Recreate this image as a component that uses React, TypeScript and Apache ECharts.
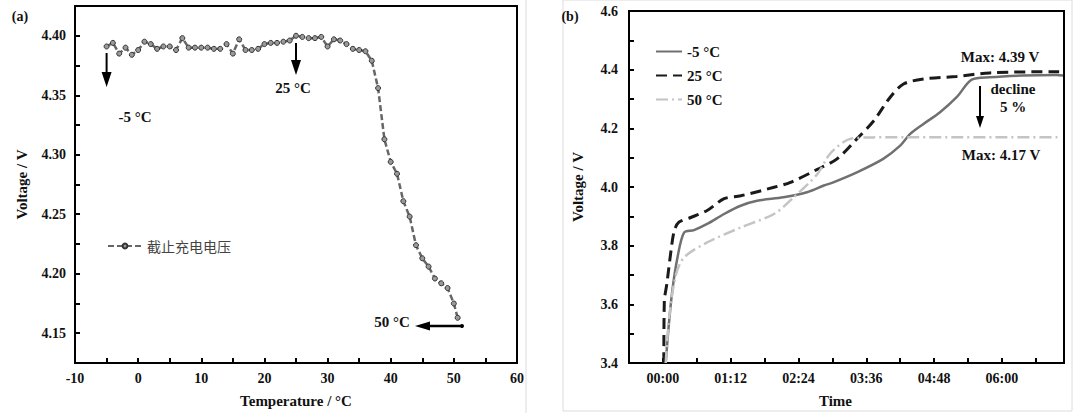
import React, { useEffect, useRef } from "react";
import * as echarts from "echarts";

// ---- Panel (a): cut-off charge voltage vs temperature ----
const tempC = [-5, -4, -3, -2, -1, 0, 1, 2, 3, 4, 5, 6, 7, 8, 9, 10, 11, 12, 13, 14, 15, 16, 17, 18, 19, 20,
  21, 22, 23, 24, 25, 26, 27, 28, 29, 30, 31, 32, 33, 34, 35, 36, 37, 38, 39, 40, 41, 42, 43, 44, 45, 46,
  47, 48, 49, 50, 50.6];
const cutoffV = [4.391, 4.394, 4.385, 4.390, 4.384, 4.388, 4.395, 4.393, 4.389, 4.391, 4.391, 4.388, 4.398,
  4.390, 4.390, 4.390, 4.390, 4.389, 4.389, 4.393, 4.385, 4.397, 4.388, 4.388, 4.389, 4.393, 4.394, 4.394,
  4.395, 4.396, 4.400, 4.399, 4.398, 4.398, 4.399, 4.391, 4.397, 4.396, 4.393, 4.389, 4.388, 4.387, 4.379,
  4.356, 4.313, 4.294, 4.284, 4.261, 4.248, 4.224, 4.213, 4.206, 4.196, 4.192, 4.188, 4.175, 4.163];
const seriesAName = "截止充电电压";

// ---- Panel (b): voltage vs time (minutes) ----
const tM5 = [3, 6, 10, 15.5, 22.6, 33, 47, 65, 82.6, 100, 128, 153, 171, 181, 206, 234, 252, 262.6, 276.7,
  294, 312, 328, 347, 382, 418, 425];
const vM5 = [3.40, 3.52, 3.647, 3.76, 3.845, 3.853, 3.874, 3.908, 3.936, 3.953, 3.965, 3.982, 4.005, 4.016,
  4.05, 4.096, 4.141, 4.181, 4.215, 4.254, 4.306, 4.366, 4.374, 4.38, 4.382, 4.38];
const t25 = [1, 1.5, 4.2, 8.5, 12, 17, 29.6, 47, 65, 82.6, 118, 135.5, 164, 185, 206, 224, 241.4, 255.5,
  276.7, 312, 347, 418, 426];
const v25 = [3.40, 3.61, 3.67, 3.78, 3.85, 3.88, 3.896, 3.92, 3.96, 3.97, 3.999, 4.016, 4.06, 4.096, 4.164,
  4.226, 4.306, 4.351, 4.368, 4.377, 4.389, 4.393, 4.393];
const t50 = [3, 6.7, 13.8, 22.6, 47, 82.6, 118, 139, 164, 178, 199, 223, 260, 420];
const v50 = [3.40, 3.556, 3.70, 3.76, 3.811, 3.862, 3.908, 3.965, 4.044, 4.115, 4.164, 4.169, 4.17, 4.17];
const seriesBNames = ["-5 °C", "25 °C", "50 °C"];

const SERIF = '"Liberation Serif", "Times New Roman", serif';
const pairs = (xs: number[], ys: number[]) => xs.map((x, i) => [x, ys[i]]);
const hhmm = (v: number) =>
  `${String(Math.floor(v / 60)).padStart(2, "0")}:${String(Math.round(v % 60)).padStart(2, "0")}`;

function arrowV(x: number, y1: number, y2: number, headLen: number, halfW: number) {
  return {
    type: "group",
    children: [
      { type: "line", shape: { x1: x, y1, x2: x, y2: y2 - headLen + 1 }, style: { stroke: "#000", lineWidth: 2 } },
      { type: "polygon", shape: { points: [[x - halfW, y2 - headLen], [x + halfW, y2 - headLen], [x, y2]] }, style: { fill: "#000" } },
    ],
  };
}
function arrowLeft(x1: number, x2: number, y: number, headLen: number, halfW: number) {
  return {
    type: "group",
    children: [
      { type: "line", shape: { x1, y1: y, x2: x2 + headLen - 1, y2: y }, style: { stroke: "#000", lineWidth: 2.5 } },
      { type: "polygon", shape: { points: [[x2 + headLen, y - halfW], [x2 + headLen, y + halfW], [x2, y]] }, style: { fill: "#000" } },
      { type: "circle", shape: { cx: x1, cy: y, r: 2 }, style: { fill: "#000" } },
    ],
  };
}
function txt(x: number, y: number, text: string, align = "center", size = 15) {
  return {
    type: "text",
    x,
    y,
    style: { text, fill: "#111", font: `bold ${size}px ${SERIF}`, align, verticalAlign: "middle" },
  };
}

export default function App() {
  const ref = useRef<HTMLDivElement>(null);
  useEffect(() => {
    document.body.style.margin = "0";
    if (!ref.current) return;
    const chart = echarts.init(ref.current, undefined, { renderer: "svg" });
    const axisCommon = {
      axisLine: { show: true, onZero: false, lineStyle: { color: "#000", width: 2 } },
      axisTick: { show: true, inside: true, length: 5, lineStyle: { color: "#000", width: 2 } },
      splitLine: { show: false },
    };
    const labelStyle = { color: "#111", fontFamily: SERIF, fontWeight: "bold", fontSize: 14 };
    const nameStyle = { color: "#111", fontFamily: SERIF, fontWeight: "bold", fontSize: 15 };
    chart.setOption({
      animation: false,
      backgroundColor: "#fff",
      grid: [
        { left: 75, top: 6, width: 442, height: 357, show: true, borderColor: "#000", borderWidth: 2, containLabel: false },
        { left: 629, top: 11, width: 435, height: 352, show: true, borderColor: "#000", borderWidth: 2, containLabel: false },
      ],
      xAxis: [
        {
          type: "value", gridIndex: 0, min: -10, max: 60, interval: 5, ...axisCommon,
          axisLabel: { ...labelStyle, margin: 8, formatter: (v: number) => (v % 10 === 0 ? String(v) : "") },
          name: "Temperature / °C", nameLocation: "middle", nameGap: 30, nameTextStyle: nameStyle,
        },
        {
          type: "value", gridIndex: 1, min: -36, max: 426, interval: 36, ...axisCommon,
          axisLabel: { ...labelStyle, margin: 8, formatter: (v: number) => (v >= 0 && v % 72 === 0 ? hhmm(v) : "") },
          name: "Time", nameLocation: "middle", nameGap: 30, nameTextStyle: { ...nameStyle, padding: [0, 22, 0, 0] },
        },
      ],
      yAxis: [
        {
          type: "value", gridIndex: 0, min: 4.125, max: 4.425, interval: 0.025, ...axisCommon,
          axisLabel: {
            ...labelStyle, margin: 9,
            formatter: (v: number) => { const r = Math.round(v * 1000); return r % 50 === 0 ? (r / 1000).toFixed(2) : ""; },
          },
          name: "Voltage / V", nameLocation: "middle", nameGap: 46, nameTextStyle: nameStyle,
        },
        {
          type: "value", gridIndex: 1, min: 3.4, max: 4.6, interval: 0.1, ...axisCommon,
          axisLabel: {
            ...labelStyle, margin: 11,
            formatter: (v: number) => { const r = Math.round(v * 10); return r % 2 === 0 ? (r / 10).toFixed(1) : ""; },
          },
          name: "Voltage / V", nameLocation: "middle", nameGap: 44, nameTextStyle: nameStyle,
        },
      ],
      legend: [
        {
          data: [seriesAName], left: 102, top: 234, itemWidth: 34, itemHeight: 6, itemGap: 6,
          textStyle: { color: "#444", fontSize: 14, fontFamily: '"Noto Sans CJK SC", sans-serif' },
        },
        {
          data: seriesBNames, orient: "vertical", left: 650, top: 39, itemWidth: 26, itemHeight: 14, itemGap: 9,
          itemStyle: { opacity: 0 },
          textStyle: { color: "#111", fontSize: 15, fontFamily: SERIF, fontWeight: "bold" },
        },
      ],
      series: [
        {
          name: seriesAName, type: "line", xAxisIndex: 0, yAxisIndex: 0,
          data: pairs(tempC, cutoffV),
          symbol: "circle", symbolSize: 5, showAllSymbol: true,
          lineStyle: { color: "#666", width: 2.5, type: [6, 3] },
          itemStyle: { color: "#9a9a9a", borderColor: "#333", borderWidth: 1 },
        },
        {
          name: seriesBNames[0], type: "line", xAxisIndex: 1, yAxisIndex: 1, data: pairs(tM5, vM5),
          symbol: "none", smooth: 0.3, lineStyle: { color: "#707070", width: 2.5, type: "solid" },
          itemStyle: { color: "#707070" },
        },
        {
          name: seriesBNames[1], type: "line", xAxisIndex: 1, yAxisIndex: 1, data: pairs(t25, v25),
          symbol: "none", smooth: 0.3, lineStyle: { color: "#1a1a1a", width: 3, type: [11, 6] },
          itemStyle: { color: "#1a1a1a" },
        },
        {
          name: seriesBNames[2], type: "line", xAxisIndex: 1, yAxisIndex: 1, data: pairs(t50, v50),
          symbol: "none", smooth: 0.3, lineStyle: { color: "#c4c4c4", width: 2.5, type: [12, 4, 2, 4] },
          itemStyle: { color: "#c4c4c4" },
        },
      ],
      graphic: [
        { type: "line", shape: { x1: 526, y1: 0, x2: 526, y2: 413 }, style: { stroke: "#dcdcdc", lineWidth: 1 } },
        { type: "rect", shape: { x: 563, y: 0, width: 509, height: 411 }, style: { fill: "none", stroke: "#dcdcdc", lineWidth: 1 } },
        txt(20, 16, "(a)", "center", 14),
        txt(570, 16, "(b)", "center", 14),
        arrowV(106.6, 53, 87, 15, 5),
        txt(135, 117, "-5 °C"),
        arrowV(296, 43, 75, 15, 5),
        txt(293, 88, "25 °C"),
        arrowLeft(462, 415, 326, 15, 4.5),
        txt(392, 322, "50 °C"),
        txt(1000, 57, "Max: 4.39 V"),
        txt(1013, 89, "decline"),
        txt(1013, 107, "5 %"),
        arrowV(980, 86, 128, 12, 4),
        txt(1001, 155, "Max: 4.17 V"),
      ],
    });
    return () => chart.dispose();
  }, []);
  return <div ref={ref} style={{ width: 1080, height: 416 }} />;
}
